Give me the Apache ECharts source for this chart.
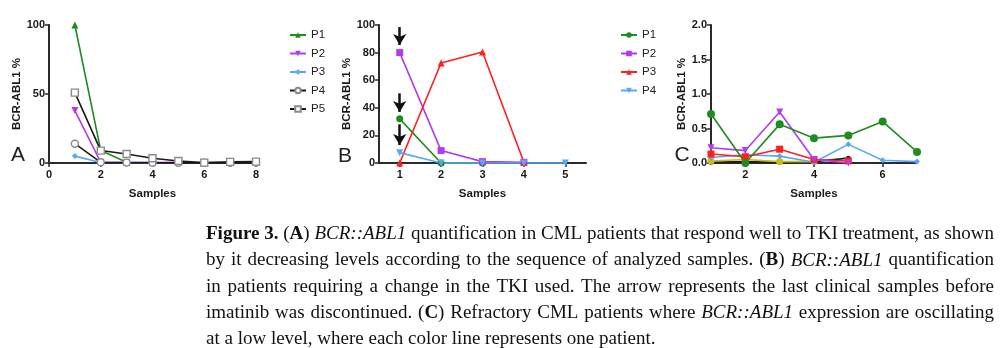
<!DOCTYPE html>
<html><head><meta charset="utf-8">
<script src="https://cdn.jsdelivr.net/npm/echarts@6/dist/echarts.min.js"></script>
<style>html,body{margin:0;padding:0;background:#fff}#c{width:1006px;height:348px}</style>
</head><body><div id="c"></div>
<script>
// ---------- Panel A ----------
const samplesA = [1, 2, 3, 4, 5, 6, 7, 8];
const aP1 = [100, 9, 0.5, 0.3];
const aP2 = [38, 0.5, 0.3, 0.3, 0.5];
const aP3 = [5, 0.3];
const aP4 = [14, 0.5, 0.3, 0.2, 0.2, 0.2, 0.2, 0.3];
const aP5 = [51, 9, 6.5, 3.4, 1.4, 0.3, 0.8, 1.0];
const ticksAX = [0, 2, 4, 6, 8];
// ---------- Panel B ----------
const samplesB = [1, 2, 3, 4, 5];
const bP1 = [32, 0, 0];
const bP2 = [80, 9, 1, 0.5];
const bP3 = [0, 72.5, 80.5, 0.5];
const bP4 = [7.5, 0, 0, 0, 0];
const ticksBX = [1, 2, 3, 4, 5];
// arrows: [sample, from value, to value]
const arrowsB = [[1, 98.5, 85.5], [1, 50.5, 37], [1, 28, 13], [3, 101, 87]];
// ---------- Panel C ----------
const samplesC = [1, 2, 3, 4, 5, 6, 7];
const cP1 = [0.71, 0.0, 0.56, 0.36, 0.40, 0.60, 0.16];
const cP2 = [0.22, 0.18, 0.74, 0.05, 0.0];
const cP3 = [0.13, 0.09, 0.20, 0.05, 0.03];
const cP4 = [0.08, 0.12, 0.10, 0.01, 0.27, 0.04, 0.02];
const cP5 = [0.01, 0.02, 0.01, 0.02, 0.07];
const cP6 = [0.03, 0.05, 0.02, 0.02];
const ticksCX = [2, 4, 6];
const legendNames = ['P1', 'P2', 'P3', 'P4', 'P5'];
const panelLetters = ['A', 'B', 'C'];
const captionLines = [
  '**Figure 3.** (**A**) *BCR::ABL1* quantification in CML patients that respond well to TKI treatment, as shown',
  'by it decreasing levels according to the sequence of analyzed samples. (**B**) *BCR::ABL1* quantification',
  'in patients requiring a change in the TKI used. The arrow represents the last clinical samples before',
  'imatinib was discontinued. (**C**) Refractory CML patients where *BCR::ABL1* expression are oscillating',
  'at a low level, where each color line represents one patient.'
];

const FONT = '"Liberation Sans", Arial, sans-serif';
const SERIF = '"Liberation Serif", "Times New Roman", serif';
const AX = '#2a2a2a';
const TXT = '#1a1a1a';
const GREEN = '#1f8c1f', PURPLE = '#b23af0', BLUE = '#5aa8f5', RED = '#ff1f1f', BLACK = '#1a1a1a', GREY = '#8a8a8a', OLIVE = '#c6be1c';
const TRI_DOWN = 'path://M0,0 L10,0 L5,9 Z';

function pairs(xs, ys) { return ys.map((v, i) => [xs[i], v]); }

function xAx(gi, min, max, ticks) {
  return {
    gridIndex: gi, type: 'value', min: min, max: max,
    name: 'Samples', nameLocation: 'middle', nameGap: 25,
    nameTextStyle: { fontFamily: FONT, fontWeight: 'bold', fontSize: 11.5, color: TXT },
    axisLine: { show: true, onZero: false, lineStyle: { color: AX, width: 2 } },
    axisTick: { show: true, length: 4, lineStyle: { color: AX, width: 1.5 }, customValues: ticks },
    axisLabel: { customValues: ticks, fontFamily: FONT, fontWeight: 'bold', fontSize: 11, color: TXT, margin: 6 },
    splitLine: { show: false }
  };
}
function yAx(gi, max, interval, fmt) {
  return {
    gridIndex: gi, type: 'value', min: 0, max: max, interval: interval,
    name: 'BCR-ABL1 %', nameLocation: 'middle', nameRotate: 90, nameGap: 19,
    nameTextStyle: { fontFamily: FONT, fontWeight: 'bold', fontSize: 11.5, color: TXT },
    axisLine: { show: true, onZero: false, lineStyle: { color: AX, width: 2 } },
    axisTick: { show: true, length: 4, lineStyle: { color: AX, width: 1.5 } },
    axisLabel: { fontFamily: FONT, fontWeight: 'bold', fontSize: 11, color: TXT, margin: 4, formatter: fmt },
    splitLine: { show: false }
  };
}
function ser(name, gi, xs, ys, color, symbol, extra) {
  return Object.assign({
    name: name, type: 'line', xAxisIndex: gi, yAxisIndex: gi,
    data: pairs(xs, ys), symbol: symbol, symbolSize: 7, showAllSymbol: true,
    lineStyle: { color: color, width: 1.6 }, itemStyle: { color: color },
    animation: false, clip: false
  }, extra || {});
}

const series = [
  // Panel A
  ser('A:P1', 0, samplesA, aP1, GREEN, 'triangle'),
  ser('A:P2', 0, samplesA, aP2, PURPLE, TRI_DOWN),
  ser('A:P3', 0, samplesA, aP3, BLUE, 'diamond', { symbolSize: 6 }),
  ser('A:P4', 0, samplesA, aP4, BLACK, 'circle', { itemStyle: { color: '#fff', borderColor: GREY, borderWidth: 1.4 } }),
  ser('A:P5', 0, samplesA, aP5, BLACK, 'rect', { itemStyle: { color: '#fff', borderColor: GREY, borderWidth: 1.4 } }),
  // Panel B
  ser('B:P1', 1, samplesB, bP1, GREEN, 'circle'),
  ser('B:P2', 1, samplesB, bP2, PURPLE, 'rect'),
  ser('B:P3', 1, samplesB, bP3, RED, 'triangle'),
  ser('B:P4', 1, samplesB, bP4, BLUE, TRI_DOWN),
  {
    name: 'arrows', type: 'line', xAxisIndex: 1, yAxisIndex: 1, data: [], animation: false, clip: false,
    markLine: {
      silent: true, animation: false, symbol: ['none', 'arrow'], symbolSize: [10, 11],
      lineStyle: { color: '#111', width: 2.5, type: 'solid' }, label: { show: false },
      data: arrowsB.map(a => [{ coord: [a[0], a[1]] }, { coord: [a[0], a[2]] }])
    }
  },
  // Panel C
  ser('C:P5', 2, samplesC, cP5, BLACK, 'circle', { symbolSize: 5 }),
  ser('C:P6', 2, samplesC, cP6, OLIVE, 'circle'),
  ser('C:P4', 2, samplesC, cP4, BLUE, 'diamond', { symbolSize: 6 }),
  ser('C:P3', 2, samplesC, cP3, RED, 'rect'),
  ser('C:P2', 2, samplesC, cP2, PURPLE, TRI_DOWN),
  ser('C:P1', 2, samplesC, cP1, GREEN, 'circle', { symbolSize: 8 })
];

const legendCommon = {
  orient: 'vertical', itemWidth: 16, itemHeight: 7, itemGap: 6.5, padding: 0, selectedMode: false,
  formatter: n => n.split(':')[1],
  textStyle: { fontFamily: FONT, fontSize: 11.5, color: '#222' }
};

// ----- caption (justified, real text) -----
const measureCtx = document.createElement('canvas').getContext('2d');
const CAP_SIZE = 19;
function fontStr(st) { return (st.i ? 'italic ' : '') + (st.b ? 'bold ' : '') + CAP_SIZE + 'px ' + SERIF; }
function parseLine(line) {
  const chars = [];
  const re = /\*\*(.+?)\*\*|\*(.+?)\*|([^*]+)/g; let m;
  while ((m = re.exec(line))) {
    const st = m[1] !== undefined ? { b: true } : m[2] !== undefined ? { i: true } : {};
    const t = m[1] || m[2] || m[3];
    for (const ch of t) chars.push({ ch: ch, st: st });
  }
  const words = []; let cur = [];
  for (const c of chars) {
    if (c.ch === ' ') { if (cur.length) words.push(cur); cur = []; continue; }
    const last = cur[cur.length - 1];
    if (last && last.st === c.st) last.t += c.ch; else cur.push({ t: c.ch, st: c.st });
  }
  if (cur.length) words.push(cur);
  return words.map(runs => {
    let w = 0;
    runs.forEach(r => { measureCtx.font = fontStr(r.st); r.w = measureCtx.measureText(r.t).width; w += r.w; });
    return { runs: runs, w: w };
  });
}
const CAP_X0 = 206, CAP_X1 = 994;
const CAP_Y = [234, 260.5, 287, 313, 339];
const graphics = [];
captionLines.forEach((line, li) => {
  const words = parseLine(line);
  measureCtx.font = fontStr({});
  const sp = measureCtx.measureText(' ').width;
  const total = words.reduce((s, w) => s + w.w, 0);
  const last = li === captionLines.length - 1;
  const gap = last ? sp : (CAP_X1 - CAP_X0 - total) / (words.length - 1);
  let x = CAP_X0;
  words.forEach(w => {
    let rx = x;
    w.runs.forEach(r => {
      graphics.push({
        type: 'text', silent: true,
        style: { text: r.t, x: rx, y: CAP_Y[li], fill: '#111', fontFamily: SERIF, fontSize: CAP_SIZE,
          fontWeight: r.st.b ? 'bold' : 'normal', fontStyle: r.st.i ? 'italic' : 'normal',
          align: 'left', verticalAlign: 'middle' }
      });
      rx += r.w;
    });
    x += w.w + gap;
  });
});
const letterPos = [[18, 155], [345, 156], [682, 155]];
panelLetters.forEach((L, i) => graphics.push({
  type: 'text', silent: true,
  style: { text: L, x: letterPos[i][0], y: letterPos[i][1], fill: '#222', fontFamily: FONT, fontSize: 21,
    align: 'center', verticalAlign: 'middle' }
}));

const option = {
  backgroundColor: '#fff',
  animation: false,
  grid: [
    { left: 49, top: 25, width: 207, height: 138 },
    { left: 379, top: 25, width: 207, height: 138 },
    { left: 711, top: 25, width: 206, height: 138 }
  ],
  xAxis: [xAx(0, 0, 8, ticksAX), xAx(1, 0.5, 5.5, ticksBX), xAx(2, 1, 7, ticksCX)],
  yAxis: [
    yAx(0, 100, 50, v => String(v)),
    yAx(1, 100, 20, v => String(v)),
    yAx(2, 2, 0.5, v => v.toFixed(1))
  ],
  legend: [
    Object.assign({}, legendCommon, { left: 289, top: 29, data: legendNames.map(n => 'A:' + n) }),
    Object.assign({}, legendCommon, { left: 620, top: 29, data: legendNames.slice(0, 4).map(n => 'B:' + n) })
  ],
  series: series,
  graphic: graphics
};
const chart = echarts.init(document.getElementById('c'));
chart.setOption(option);
</script></body></html>
